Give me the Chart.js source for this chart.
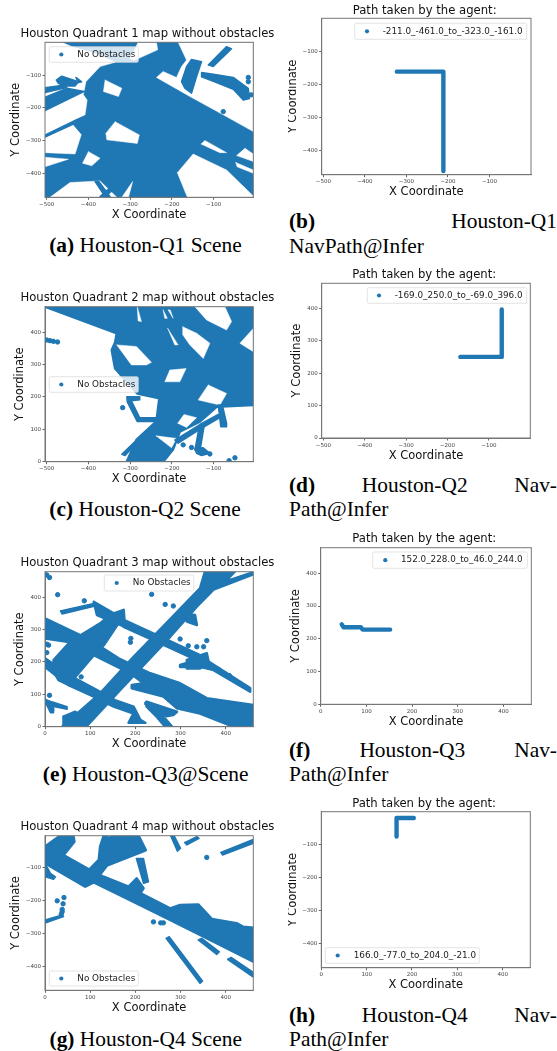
<!DOCTYPE html>
<html>
<head>
<meta charset="utf-8">
<title>Houston quadrants</title>
<script src="https://cdn.jsdelivr.net/npm/chart.js@4"></script>
<style>
    html, body { margin: 0; padding: 0; background: #fff; }
    body { position: relative; width: 557px; height: 1051px; overflow: hidden; }
    canvas { position: absolute; filter: blur(0.35px); }
    .cap { position: absolute; font-family: "Liberation Serif", serif; font-size: 21.4px; line-height: 24px; color: #000; white-space: nowrap; }
    .cap.center { transform: translateX(-50%); }
    .cap.line { left: 289px; width: 268px; display: flex; justify-content: space-between; }
    .cap b { font-weight: bold; }
</style>
</head>
<body>
<script>
// tick values
const xTicksWest = [-500, -400, -300, -200, -100];
const xTicksEast = [0, 100, 200, 300, 400];
const yTicksNorth = [0, 100, 200, 300, 400];
const yTicksSouth = [-400, -300, -200, -100];

const mapLabel = "No Obstacles";

// Q1 map: road area, then gaps in it, then thin roads over the gaps
const q1Roads = [
    [[-504, 0], [-5, 0], [-5, -472], [-504, -472]]
];
const q1Gaps = [
    [[-504, 0], [-464, 0], [-440, -13], [-372, -39], [-336, -61], [-372, -74], [-406, -120], [-412, -160], [-403, -176], [-408, -221], [-396, -272], [-416, -277], [-432, -340], [-504, -336]],
    [[-504, -350], [-448, -356], [-504, -379]],
    [[-360, -115], [-320, -140], [-328, -165], [-364, -150]],
    [[-336, -242], [-278, -282], [-283, -308], [-356, -297], [-358, -277]],
    [[-400, -333], [-372, -353], [-392, -376], [-414, -368]],
    [[-130, -310], [-121, -299], [-69, -336], [-85, -336]],
    [[-25, -323], [-5, -340], [-5, -363], [-45, -345]],
    [[-47, -366], [-5, -389], [-5, -399], [-44, -379]],
    [[-187, -397], [-149, -340], [-69, -389], [-5, -468], [-5, -472], [-163, -472]],
    [[-185, 0], [-5, 0], [-5, -272], [-77, -221], [-157, -165], [-237, -107], [-221, -89], [-189, -107], [-177, -74], [-165, -54]],
    [[-281, 0], [-237, 0], [-234, -23], [-290, -55], [-300, -50]],
    [[-492, -472], [-444, -427], [-372, -422], [-332, -472]],
    [[-320, -472], [-294, -424], [-304, -472]]
];
const q1Strips = [
    [[-477, -115], [-464, -103], [-424, -120], [-432, -133], [-460, -133], [-472, -125]],
    [[-430, -107], [-416, -120], [-424, -123]],
    [[-504, -138], [-456, -130], [-452, -138], [-504, -153]],
    [[-504, -167], [-452, -140], [-410, -150], [-416, -153], [-504, -208]],
    [[-504, -282], [-432, -238], [-403, -221], [-392, -277], [-416, -279], [-436, -249], [-504, -289]],
    [[-153, -52], [-129, -59], [-141, -105], [-153, -155], [-169, -140], [-177, -120], [-165, -74]],
    [[-113, -69], [-69, -13], [-57, -20], [-101, -74]],
    [[-129, -92], [-93, -99], [-53, -107], [-17, -140], [-14, -171], [-29, -176], [-53, -143], [-93, -123], [-129, -105]],
    [[-384, -424], [-375, -424], [-348, -470], [-360, -470]],
    [[-372, -470], [-332, -424], [-323, -429], [-360, -470]]
];
const q1Dots = [[-17, -107], [-17, -120], [-77, -211], [-10, -160]];

// Q2 map
const q2Roads = [
    [[-504, 479], [-5, 479], [-5, 175], [-93, 170], [-133, 124], [-181, 93], [-189, 67], [-197, 39], [-221, 0], [-308, 0], [-285, 67], [-237, 124], [-230, 196], [-283, 211], [-336, 288], [-344, 345], [-336, 368], [-332, 397]]
];
const q2Gaps = [
    [[-283, 479], [-273, 433], [-281, 435]],
    [[-221, 469], [-211, 443], [-217, 443]],
    [[-209, 469], [-197, 443], [-204, 469]],
    [[-210, 412], [-185, 361], [-193, 361]],
    [[-174, 417], [-141, 397], [-109, 366], [-125, 319], [-157, 361], [-174, 392]],
    [[-205, 283], [-166, 288], [-181, 247], [-217, 247]],
    [[-113, 237], [-69, 211], [-85, 175], [-137, 191]],
    [[-332, 361], [-285, 356], [-249, 307], [-261, 299], [-297, 299]],
    [[-5, 412], [-37, 366], [-5, 340]],
    [[-145, 479], [-73, 479], [-57, 433], [-69, 407], [-117, 438]],
    [[-186, 119], [-171, 146], [-141, 136], [-165, 106]],
    [[-238, 80], [-189, 72], [-201, 43]]
];
const q2Strips = [
    [[-308, 201], [-277, 201], [-277, 191], [-297, 188], [-277, 136], [-235, 136], [-235, 124], [-283, 124], [-307, 185]],
    [[-193, 67], [-133, 115], [-89, 146], [-85, 136], [-129, 103], [-185, 57]],
    [[-134, 113], [-123, 108], [-133, 31], [-145, 36]],
    [[-145, 41], [-125, 43], [-109, 26], [-129, 19], [-141, 26]],
    [[-89, 175], [-79, 175], [-69, 119], [-69, 108], [-83, 108]],
    [[-320, 23], [-289, 62], [-281, 62], [-312, 19]]
];
const q2Dots = [[-500, 376], [-492, 374], [-484, 372], [-474, 370], [-318, 167], [-153, 44], [-173, 52], [-109, 24], [-63, 3], [-49, 12]];

// Q3 map
const q3Roads = [
    [[38, 0], [91, 0], [166, 113], [277, 278], [336, 371], [373, 424], [461, 471], [461, 477], [398, 448], [420, 479], [354, 479], [343, 427], [314, 386], [281, 338], [196, 216], [122, 103]],
    [[19, 206], [56, 263], [122, 319], [144, 345], [170, 335], [130, 252], [108, 221], [52, 129], [30, 144], [19, 170]],
    [[0, 335], [100, 268], [163, 211], [233, 165], [299, 134], [358, 88], [461, 67], [461, 0], [417, 0], [343, 41], [292, 57], [262, 93], [192, 119], [192, 129], [218, 134], [189, 165], [108, 221], [49, 263], [0, 273]],
    [[0, 211], [52, 160], [115, 113], [155, 82], [196, 62], [211, 21], [222, 12], [185, 12], [196, 41], [152, 62], [108, 93], [52, 129], [27, 155], [0, 185]],
    [[225, 77], [292, 46], [284, 36], [262, 31], [281, 0], [266, 0], [247, 31], [225, 62]],
    [[166, 335], [255, 278], [343, 221], [362, 201], [454, 119], [454, 108], [373, 175], [343, 185], [299, 185], [299, 191], [336, 206], [255, 258], [174, 309]],
    [[314, 206], [358, 227], [362, 201], [343, 180], [314, 180]],
    [[108, 386], [152, 350], [174, 361], [177, 309], [115, 345]],
    [[306, 350], [332, 345], [336, 314], [314, 325]],
    [[41, 31], [67, 46], [78, 36], [49, 0], [41, 0]]
];
const q3Strips = [
    [[34, 358], [108, 381], [111, 373], [38, 348]],
    [[0, 85], [15, 77], [49, 62], [49, 54], [19, 62], [19, 43], [12, 43], [0, 77]]
];
const q3Dots = [[4, 469], [10, 461], [28, 408], [87, 389], [236, 409], [266, 378], [284, 373], [299, 271], [317, 250], [358, 266], [336, 247], [351, 247], [384, 177], [398, 163], [408, 158], [80, 154], [4, 255], [8, 252], [4, 229], [10, 97], [15, 52], [190, 273], [189, 261], [225, 72]];

// Q4 map
const q4Roads = [
    [[0, -35], [30, -5], [34, -2], [63, -2], [65, -20], [41, -61], [100, -107], [130, -127], [185, -157], [203, -132], [218, -162], [211, -177], [277, -223], [299, -213], [339, -211], [369, -255], [424, -268], [439, -279], [461, -282], [461, -385], [373, -324], [270, -253], [196, -203], [108, -144], [89, -157], [0, -86]],
    [[82, -127], [119, -76], [122, -35], [130, -2], [138, -2], [138, -15], [148, -2], [207, -2], [223, -46], [137, -93], [108, -144]]
];
const q4Strips = [
    [[202, -71], [218, -71], [229, -142], [218, -147]],
    [[0, -86], [12, -116], [23, -127], [19, -135], [0, -127]],
    [[0, -258], [38, -243], [41, -248], [0, -268]],
    [[278, -2], [286, -2], [300, -40], [293, -49]],
    [[309, -23], [336, -5], [341, -10], [314, -30]],
    [[389, -53], [461, -13], [461, -25], [393, -61]],
    [[268, -314], [275, -309], [349, -444], [343, -451]],
    [[339, -319], [347, -314], [386, -355], [380, -363]],
    [[404, -378], [412, -372], [461, -417], [461, -432]]
];
const q4Dots = [[27, -200], [42, -190], [40, -209], [38, -226], [38, -233], [240, -264], [256, -267], [262, -267], [358, -68], [36, -241]];

// agent paths
const pathQ1 = [[-211, -461], [-211, -161], [-323, -161]];
const pathQ2 = [[-169, 250], [-69, 250], [-69, 396]];
const pathQ3 = [[152, 228], [92, 228], [88, 235], [50, 235], [46, 244]];
const pathQ4 = [[166, -77], [166, -21], [204, -21]];

const BLUE = "#1f77b4";
const WHITE = "#ffffff";
const FONT = "'DejaVu Sans', sans-serif";
const LABEL_SIZE = 11.5;
const TITLE_SIZE = 11.65;
const LINE_H = LABEL_SIZE * 1.2;

const panels = [
    { frame: [45, 42.3, 253.3, 197.3], titleY: 34.3, xLabelY: 215, yLabelX: 15.7, xr: [-504, -5], yr: [-472, 0], xt: xTicksWest, yt: yTicksSouth,
      title: "Houston Quadrant 1 map without obstacles", label: mapLabel, legend: [49.3, 46.7, 138.3, 62.3, 61.3, 77.3],
      roads: q1Roads, gaps: q1Gaps, strips: q1Strips, dots: q1Dots },
    { frame: [321.7, 18.3, 531, 174.7], titleY: 10.7, xLabelY: 192.3, yLabelX: 293.5, xr: [-504, 0], yr: [-472, 0], xt: xTicksWest, yt: yTicksSouth,
      title: "Path taken by the agent:", label: "-211.0_-461.0_to_-323.0_-161.0", legend: [354.7, 23.3, 526.7, 39.3, 367, 382.7],
      path: pathQ1, clipLeft: 288, clipBottom: 195.3 },
    { frame: [45, 306.7, 253.3, 461.7], titleY: 298.3, xLabelY: 479, yLabelX: 20, xr: [-504, -5], yr: [0, 479], xt: xTicksWest, yt: yTicksNorth,
      title: "Houston Quadrant 2 map without obstacles", label: mapLabel, legend: [49.3, 376.7, 138.3, 392.3, 61.3, 77.3],
      roads: q2Roads, gaps: q2Gaps, strips: q2Strips, dots: q2Dots },
    { frame: [321.7, 283.3, 530.3, 438], titleY: 275, xLabelY: 455.7, yLabelX: 296.7, xr: [-504, 0], yr: [0, 477], xt: xTicksWest, yt: yTicksNorth,
      title: "Path taken by the agent:", label: "-169.0_250.0_to_-69.0_396.0", legend: [367.3, 287.7, 526.7, 303.3, 379, 394.7],
      path: pathQ2 },
    { frame: [45, 571.7, 253.3, 726.7], titleY: 563.3, xLabelY: 744, yLabelX: 20, xr: [0, 461], yr: [0, 479], xt: xTicksEast, yt: yTicksNorth,
      title: "Houston Quadrant 3 map without obstacles", label: mapLabel, legend: [104.3, 575, 193.7, 591, 116.7, 132.7],
      roads: q3Roads, gaps: [], strips: q3Strips, dots: q3Dots },
    { frame: [320.7, 547.7, 531.3, 704.3], titleY: 539.3, xLabelY: 721.7, yLabelX: 295.7, xr: [0, 461], yr: [0, 478], xt: xTicksEast, yt: yTicksNorth,
      title: "Path taken by the agent:", label: "152.0_228.0_to_46.0_244.0", legend: [372.7, 552, 527.3, 568.3, 385.3, 401],
      path: pathQ3, clipBottom: 724.3 },
    { frame: [45, 835.7, 253.3, 990.3], titleY: 827.3, xLabelY: 1007.7, yLabelX: 15.7, xr: [0, 461], yr: [-472, -2], xt: xTicksEast, yt: yTicksSouth,
      title: "Houston Quadrant 4 map without obstacles", label: mapLabel, legend: [49.3, 971, 138.3, 986, 61.3, 77.3],
      roads: q4Roads, gaps: [], strips: q4Strips, dots: q4Dots },
    { frame: [321.3, 811.7, 530.3, 967.7], titleY: 804, xLabelY: 985, yLabelX: 293.5, xr: [0, 461], yr: [-474, -2], xt: xTicksEast, yt: yTicksSouth,
      title: "Path taken by the agent:", label: "166.0_-77.0_to_204.0_-21.0", legend: [325.3, 947.7, 479.3, 963.3, 337.7, 353.7],
      path: pathQ4, clipLeft: 288 }
];

const captions = [
    { x: 145.5, y: 245, tag: "(a)", text: "Houston-Q1 Scene" },
    { x: 145, y: 509.3, tag: "(c)", text: "Houston-Q2 Scene" },
    { x: 145.7, y: 774.3, tag: "(e)", text: "Houston-Q3@Scene" },
    { x: 145.8, y: 1039.3, tag: "(g)", text: "Houston-Q4 Scene" }
];
const captionLines = [
    { y: 220.7, parts: ["(b)", "Houston-Q1"] },
    { y: 245.7, parts: ["NavPath@Infer"] },
    { y: 485, parts: ["(d)", "Houston-Q2", "Nav-"] },
    { y: 509.3, parts: ["Path@Infer"] },
    { y: 750, parts: ["(f)", "Houston-Q3", "Nav-"] },
    { y: 774.3, parts: ["Path@Infer"] },
    { y: 1015, parts: ["(h)", "Houston-Q4", "Nav-"] },
    { y: 1039, parts: ["Path@Infer"] }
];

function toXY(points) {
    return points.map(p => ({ x: p[0], y: p[1] }));
}

function shapeDataset(points, color, order, edge) {
    return {
        type: "line",
        data: toXY(points.concat([points[0]])),
        fill: "shape",
        backgroundColor: color,
        borderColor: color,
        borderWidth: edge,
        borderJoinStyle: "round",
        borderCapStyle: "round",
        pointRadius: 0,
        tension: 0,
        order: order
    };
}

function buildDatasets(panel) {
    if (panel.path) {
        return [{
            type: "line",
            data: toXY(panel.path),
            fill: false,
            borderColor: BLUE,
            borderWidth: 4.4,
            borderCapStyle: "round",
            borderJoinStyle: "round",
            pointRadius: 0,
            tension: 0
        }];
    }
    const datasets = [];
    let order = 0;
    panel.roads.forEach(s => datasets.push(shapeDataset(s, BLUE, order--, 2.6)));
    panel.gaps.forEach(s => datasets.push(shapeDataset(s, WHITE, order--, 0.5)));
    panel.strips.forEach(s => datasets.push(shapeDataset(s, BLUE, order--, 1.4)));
    datasets.push({
        type: "scatter",
        data: toXY(panel.dots),
        backgroundColor: BLUE,
        borderColor: BLUE,
        pointRadius: 2.2,
        order: order--
    });
    return datasets;
}

// matplotlib style box, title over the axes and the legend inside them
const framePlugin = {
    id: "frameAndLegend",
    afterDatasetsDraw(chart, args, opts) {
        const ctx = chart.ctx;
        const area = chart.chartArea;
        const lg = opts.legend;
        ctx.save();
        ctx.strokeStyle = "#777";
        ctx.lineWidth = 1;
        ctx.strokeRect(area.left, area.top, area.right - area.left, area.bottom - area.top);

        ctx.fillStyle = "#111";
        ctx.font = TITLE_SIZE + "px " + FONT;
        ctx.textAlign = "center";
        ctx.textBaseline = "middle";
        ctx.fillText(opts.title, (area.left + area.right) / 2 - 1.7, opts.titleY - opts.top);

        ctx.fillStyle = "rgba(255,255,255,0.8)";
        ctx.strokeStyle = "#d8d8d8";
        ctx.lineWidth = 0.7;
        ctx.beginPath();
        ctx.roundRect(lg[0] - opts.left, lg[1] - opts.top, lg[2] - lg[0], lg[3] - lg[1], 1.5);
        ctx.fill();
        ctx.stroke();

        const midY = (lg[1] + lg[3]) / 2 - opts.top;
        ctx.fillStyle = BLUE;
        ctx.beginPath();
        ctx.arc(lg[4] - opts.left, midY, 2.1, 0, Math.PI * 2);
        ctx.fill();

        ctx.fillStyle = "#222";
        ctx.font = "8.8px " + FONT;
        ctx.textAlign = "left";
        ctx.fillText(opts.label, lg[5] - opts.left, midY);
        ctx.restore();
    }
};

function drawPanel(panel) {
    const [fl, ft, fr, fb] = panel.frame;
    const titleLeft = panel.yLabelX - LINE_H / 2;
    const left = Math.floor(titleLeft) - 1;
    const top = Math.floor(panel.titleY - LINE_H / 2) - 1;
    const right = Math.min(557, Math.ceil(fr) + 27);
    const bottom = Math.ceil(panel.xLabelY + LINE_H / 2) + 1;

    const canvas = document.createElement("canvas");
    canvas.width = right - left;
    canvas.height = bottom - top;
    canvas.style.left = left + "px";
    canvas.style.top = top + "px";
    canvas.style.width = (right - left) + "px";
    canvas.style.height = (bottom - top) + "px";
    const clipL = panel.clipLeft ? panel.clipLeft - left : 0;
    const clipB = panel.clipBottom ? bottom - panel.clipBottom : 0;
    if (clipL || clipB) {
        canvas.style.clipPath = `inset(0 0 ${clipB}px ${clipL}px)`;
    }
    document.body.appendChild(canvas);

    const tickFont = { family: FONT, size: 5.5 };
    const labelFont = { family: FONT, size: LABEL_SIZE, lineHeight: 1.2, weight: "normal" };
    const minus = v => (v < 0 ? "\u2212" + Math.abs(v) : String(v));

    new Chart(canvas.getContext("2d"), {
        type: "line",
        data: { datasets: buildDatasets(panel) },
        plugins: [framePlugin],
        options: {
            responsive: false,
            animation: false,
            devicePixelRatio: 1,
            layout: {
                padding: {
                    left: titleLeft - left,
                    top: ft - top,
                    right: right - fr,
                    bottom: bottom - (panel.xLabelY + LINE_H / 2)
                }
            },
            scales: {
                x: {
                    type: "linear",
                    min: panel.xr[0],
                    max: panel.xr[1],
                    grid: { drawOnChartArea: false, tickLength: 2.5, color: "#666" },
                    border: { color: "#777" },
                    ticks: { autoSkip: false, maxRotation: 0, minRotation: 0, padding: 1.5, color: "#444", font: tickFont, callback: minus },
                    title: { display: true, text: "X Coordinate", color: "#111", font: labelFont, padding: 0 },
                    afterBuildTicks: s => { s.ticks = panel.xt.map(v => ({ value: v })); },
                    afterFit: s => { s.height = panel.xLabelY + LINE_H / 2 - fb; }
                },
                y: {
                    type: "linear",
                    min: panel.yr[0],
                    max: panel.yr[1],
                    grid: { drawOnChartArea: false, tickLength: 2.5, color: "#666" },
                    border: { color: "#777" },
                    ticks: { autoSkip: false, padding: 1.5, color: "#444", font: tickFont, callback: minus },
                    title: { display: true, text: "Y Coordinate", color: "#111", font: labelFont, padding: 0 },
                    afterBuildTicks: s => { s.ticks = panel.yt.map(v => ({ value: v })); },
                    afterFit: s => { s.width = fl - titleLeft; }
                }
            },
            plugins: {
                legend: { display: false },
                tooltip: { enabled: false },
                frameAndLegend: { legend: panel.legend, label: panel.label, title: panel.title, titleY: panel.titleY, left: left, top: top }
            }
        }
    });
}

function addCaption(html, cls, styleText) {
    const div = document.createElement("div");
    div.className = "cap " + cls;
    div.style.cssText = styleText;
    div.innerHTML = html;
    document.body.appendChild(div);
}

panels.forEach(drawPanel);

captions.forEach(c => {
    addCaption(`<b>${c.tag}</b>&nbsp;${c.text}`, "center", `left:${c.x}px;top:${c.y - 12}px`);
});

captionLines.forEach(l => {
    const html = l.parts.map((p, i) => (p.startsWith("(") && i === 0 ? `<b>${p}</b>` : `<span>${p}</span>`)).join("");
    addCaption(html, "line", `top:${l.y - 12}px`);
});
</script>
</body>
</html>
